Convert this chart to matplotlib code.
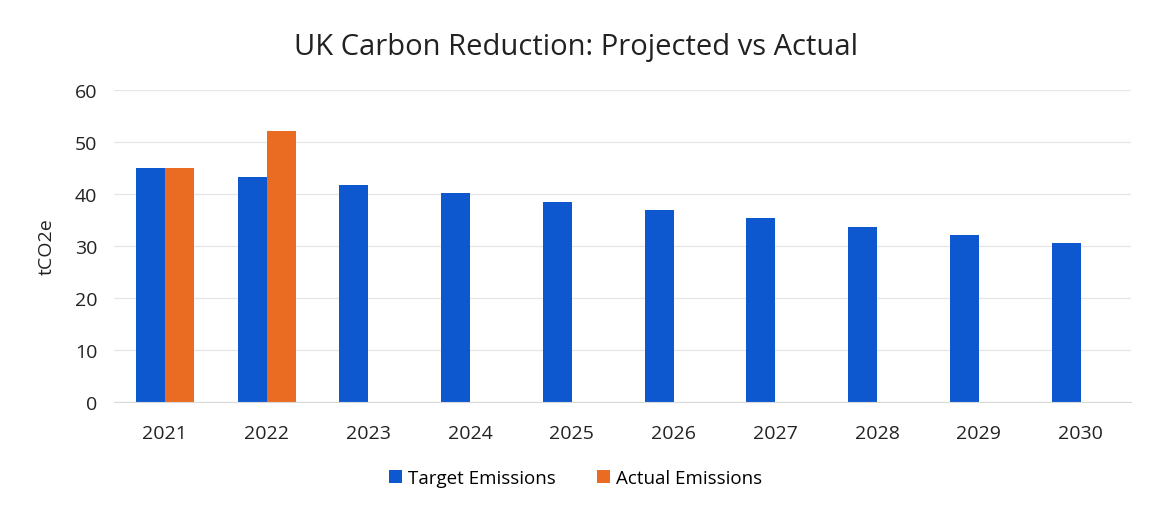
import matplotlib

matplotlib.use("Agg")
import matplotlib.pyplot as plt
import numpy as np

plt.rcParams["font.family"] = ["Open Sans", "DejaVu Sans"]

YEARS = ["2021", "2022", "2023", "2024", "2025", "2026", "2027", "2028", "2029", "2030"]
TARGET = [44.9, 43.3, 41.7, 40.2, 38.5, 36.9, 35.3, 33.7, 32.1, 30.5]
ACTUAL = [44.9, 52.0, np.nan, np.nan, np.nan, np.nan, np.nan, np.nan, np.nan, np.nan]

BLUE, ORANGE = "#0d58cf", "#ea6b22"

fig = plt.figure(figsize=(11.51, 5.10), dpi=100)
ax = fig.add_axes([0.099, 0.210, 0.884, 0.612])

x = np.arange(len(YEARS))
w = 0.285
ax.bar(x - w / 2, TARGET, w, color=BLUE, label="Target Emissions")
ax.bar(x + w / 2, ACTUAL, w, color=ORANGE, label="Actual Emissions")

ax.set_xlim(-0.5, len(YEARS) - 0.5)
ax.set_ylim(0, 60)
ax.set_yticks(range(0, 61, 10))
ax.set_xticks(x)
ax.set_xticklabels(YEARS)
ax.tick_params(length=0, labelsize=14, colors="#222222")
ax.tick_params(axis="x", pad=16)
ax.tick_params(axis="y", pad=12)
ax.grid(axis="y", color="#e6e6e6", linewidth=0.9)
ax.set_axisbelow(True)
for s in ("top", "right", "left"):
    ax.spines[s].set_visible(False)
ax.spines["bottom"].set_color("#d9d9d9")

ax.set_ylabel("tCO2e", fontsize=14, color="#222222", labelpad=14)
fig.suptitle("UK Carbon Reduction: Projected vs Actual", fontsize=21, color="#222222", y=0.935)

fig.legend(loc="center", bbox_to_anchor=(0.5, 0.06), ncol=2, frameon=False, fontsize=13.5,
           handlelength=0.7, handleheight=0.7, handletextpad=0.3, columnspacing=2.2)

fig.savefig("out.png", dpi=100)
